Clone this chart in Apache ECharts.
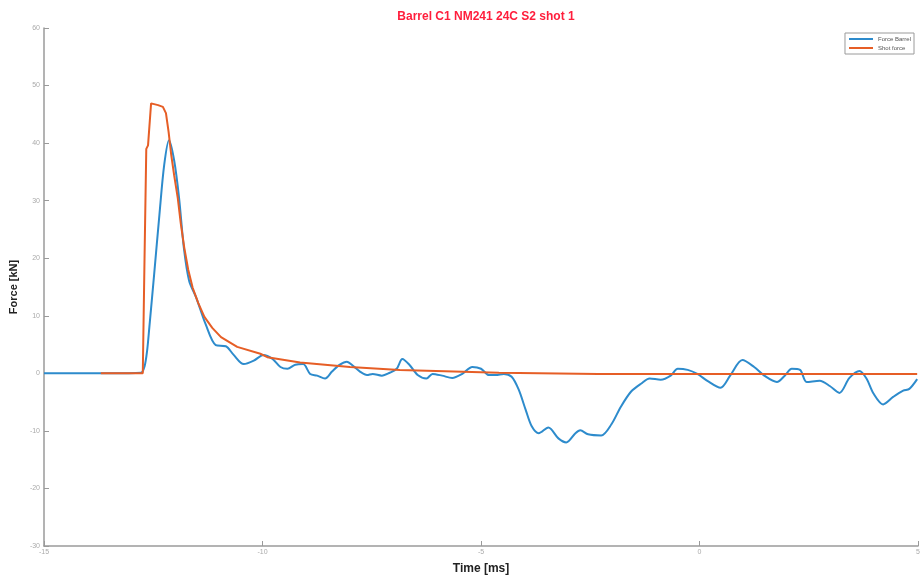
<!DOCTYPE html>
<html>
<head>
<meta charset="utf-8">
<script src="https://cdn.jsdelivr.net/npm/echarts@6/dist/echarts.min.js"></script>
<style>html,body{margin:0;padding:0;background:#fff}#c{width:923px;height:580px}</style>
</head>
<body>
<div id="c"></div>
<script>
const titleText = 'Barrel C1 NM241 24C S2 shot 1';
const seriesNames = ['Force Barrel', 'Shot force'];
const xTicks = { min: -15, max: 5, interval: 5 };
const yTicks = { min: -30, max: 60, interval: 10 };

const barrelTime = [-15, -13.5, -12.78, -12.70, -12.64, -12.59, -12.48, -12.36, -12.25, -12.14, -12.02, -11.91, -11.80, -11.68, -11.52, -11.30, -11.07, -10.84, -10.66, -10.43, -10.20, -9.98, -9.77, -9.59, -9.43, -9.25, -9.07, -8.91, -8.75, -8.57, -8.41, -8.23, -8.07, -7.93, -7.77, -7.61, -7.48, -7.27, -7.09, -6.93, -6.80, -6.64, -6.45, -6.25, -6.11, -5.89, -5.66, -5.43, -5.20, -5.00, -4.82, -4.66, -4.48, -4.30, -4.14, -3.98, -3.84, -3.68, -3.46, -3.23, -3.05, -2.84, -2.73, -2.55, -2.25, -2.02, -1.80, -1.57, -1.34, -1.14, -0.89, -0.66, -0.50, -0.27, -0.05, 0.18, 0.48, 0.70, 0.98, 1.25, 1.48, 1.77, 1.95, 2.11, 2.30, 2.45, 2.75, 2.98, 3.20, 3.43, 3.66, 3.82, 3.98, 4.20, 4.43, 4.66, 4.80, 4.98];
const barrelForce = [0, 0, 0.1, 1.2, 4.0, 8.0, 17.2, 27.5, 36.2, 40.5, 36.9, 30.5, 21.8, 16.1, 13.2, 8.5, 4.9, 4.7, 3.2, 1.6, 2.2, 3.2, 2.5, 1.1, 0.8, 1.5, 1.6, -0.1, -0.4, -0.9, 0.3, 1.5, 2.0, 1.3, 0.3, -0.3, -0.1, -0.4, 0.1, 0.8, 2.5, 1.5, -0.3, -0.9, -0.1, -0.4, -0.8, -0.1, 1.1, 0.8, -0.3, -0.3, -0.1, -0.6, -2.8, -6.3, -9.2, -10.4, -9.4, -11.3, -12.0, -10.4, -9.9, -10.6, -10.8, -8.9, -5.8, -3.2, -1.8, -0.9, -1.1, -0.4, 0.8, 0.6, -0.1, -1.3, -2.5, -0.4, 2.3, 1.1, -0.4, -1.5, -0.4, 0.8, 0.6, -1.5, -1.3, -2.2, -3.4, -0.8, 0.4, -0.9, -3.5, -5.4, -4.1, -3.0, -2.7, -1.0];

const shotTime = [-13.7, -12.74, -12.70, -12.66, -12.62, -12.55, -12.51, -12.39, -12.28, -12.21, -12.15, -12.09, -12.02, -11.94, -11.87, -11.79, -11.70, -11.60, -11.47, -11.33, -11.15, -10.95, -10.58, -10.05, -9.89, -9.14, -8.0, -6.86, -4.59, -2.32, -0.05, 2.5, 4.98];
const shotForce = [0, 0, 20.0, 39.0, 39.6, 46.9, 47.2, 46.6, 46.3, 45.2, 42.0, 38.0, 34.3, 30.5, 26.0, 21.8, 18.0, 14.9, 12.2, 9.8, 7.9, 6.3, 4.6, 3.4, 2.8, 1.9, 1.1, 0.6, 0.1, -0.1, -0.1, -0.1, -0.1];

const zip = (a, b) => a.map((v, i) => [v, b[i]]);

const chart = echarts.init(document.getElementById('c'), null, { renderer: 'canvas' });
const fontFam = 'Liberation Sans, Arial, sans-serif';
chart.setOption({
  animation: false,
  backgroundColor: '#ffffff',
  title: {
    text: titleText,
    left: 481, top: 6, textAlign: 'center',
    textStyle: { color: '#ff1e3c', fontSize: 12, fontWeight: 'bold', fontFamily: fontFam }
  },
  legend: {
    orient: 'vertical',
    right: 9, top: 33,
    data: seriesNames,
    itemWidth: 24, itemHeight: 2, itemGap: 3,
    padding: [3, 3, 3, 4],
    borderColor: '#9a9a9a', borderWidth: 1,
    icon: 'rect',
    textStyle: { fontSize: 6, color: '#555', fontFamily: fontFam }
  },
  grid: { left: 42, right: 2, top: 28, bottom: 30, containLabel: false },
  xAxis: {
    type: 'value', min: xTicks.min, max: xTicks.max, interval: xTicks.interval,
    name: 'Time [ms]', nameLocation: 'middle', nameGap: 17,
    nameTextStyle: { fontSize: 12, fontWeight: 'bold', color: '#222', fontFamily: fontFam },
    axisLine: { show: true, onZero: false, lineStyle: { color: '#9a9a9a', width: 1.5 } },
    axisTick: { show: true, inside: true, length: 5, lineStyle: { color: '#9a9a9a' } },
    axisLabel: { fontSize: 7, color: '#aaa', margin: 3, fontFamily: fontFam },
    splitLine: { show: false }
  },
  yAxis: {
    type: 'value', min: yTicks.min, max: yTicks.max, interval: yTicks.interval,
    name: 'Force [kN]', nameLocation: 'middle', nameGap: 18,
    nameTextStyle: { fontSize: 11, fontWeight: 'bold', color: '#222', fontFamily: fontFam },
    axisLine: { show: true, onZero: false, lineStyle: { color: '#9a9a9a', width: 1.5 } },
    axisTick: { show: true, inside: true, length: 5, lineStyle: { color: '#9a9a9a' } },
    axisLabel: { fontSize: 7, color: '#aaa', margin: 4, fontFamily: fontFam },
    splitLine: { show: false }
  },
  series: [
    {
      name: seriesNames[0], type: 'line', data: zip(barrelTime, barrelForce),
      showSymbol: false, smooth: 0.3,
      lineStyle: { color: '#2d8bcc', width: 2 }, itemStyle: { color: '#2d8bcc' }
    },
    {
      name: seriesNames[1], type: 'line', data: zip(shotTime, shotForce),
      showSymbol: false, smooth: false,
      lineStyle: { color: '#e65e26', width: 2 }, itemStyle: { color: '#e65e26' }
    }
  ]
});
</script>
</body>
</html>
